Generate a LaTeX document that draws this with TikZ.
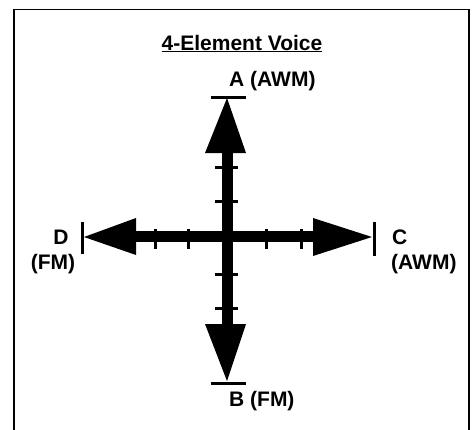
\documentclass[tikz,border=0pt]{standalone}
\usepackage{fontspec}
\setmainfont{Liberation Sans}
\begin{document}
\begin{tikzpicture}[x=1pt,y=-1pt,
  lbl/.style={font=\bfseries\fontsize{21}{23}\selectfont, inner sep=0pt},
  shaft/.style={line width=11pt},
  tick/.style={line width=3pt},
  endbar/.style={line width=3pt},
  head/.style={fill=black}]
\useasboundingbox (0,0) rectangle (474,429);
% frame
\draw[line width=1.6pt] (14,440) -- (14,9.5) -- (469,9.5) -- (469,440);
% title
\node[lbl, anchor=base] (title) at (242,50) {\underline{4-Element Voice}};
% center and ends
\coordinate (O) at (227,236);
\coordinate (Atip) at (227,98);
\coordinate (Btip) at (227,381);
\coordinate (Dtip) at (84,237);
\coordinate (Ctip) at (372,237);
% shafts
\draw[shaft] (227,150) -- (227,327);
\draw[shaft] (134,236) -- (315,236);
% ticks vertical
\foreach \y in {167,201,274,308} \draw[tick] (215,\y) -- (238,\y);
% ticks horizontal
\foreach \x in {155,188,266,301} \draw[tick] (\x,229) -- (\x,249);
% arrowheads
\fill[head] (Atip) -- (205,153) -- (246,153) -- cycle;
\fill[head] (Btip) -- (205,324) -- (246,324) -- cycle;
\fill[head] (Dtip) -- (136,218) -- (136,255) -- cycle;
\fill[head] (Ctip) -- (313,218) -- (313,256) -- cycle;
% end bars
\draw[endbar] (211,97) -- (246,97);
\draw[endbar] (211,383) -- (246,383);
\draw[endbar] (82,222) -- (82,254);
\draw[endbar] (374,222) -- (374,256);
% labels
\node[lbl, anchor=west] (A) at (229,81) {A (AWM)};
\node[lbl, anchor=west] (B) at (229,401) {B (FM)};
\node[lbl] (D) at (61,237) {D};
\node[lbl] (Dfm) at (53,264) {(FM)};
\node[lbl, anchor=west] (C) at (392,237) {C};
\node[lbl, anchor=west] (Cawm) at (391,264) {(AWM)};
\end{tikzpicture}
\end{document}
